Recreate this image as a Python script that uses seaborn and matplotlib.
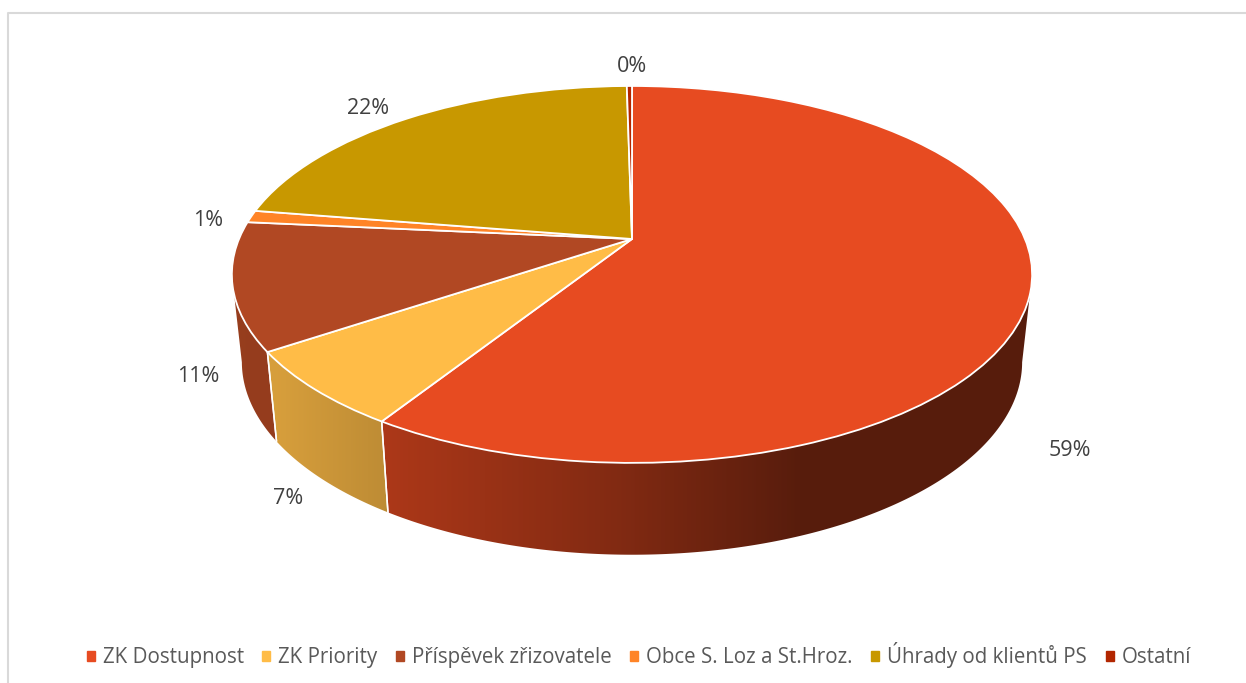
# 3D looking pie of income sources, drawn with a tilted disc transform

import numpy as np
import matplotlib
matplotlib.use('Agg')
import matplotlib.pyplot as plt
import matplotlib.patches as mpatches
from matplotlib.transforms import Transform
import seaborn as sns

# Data
categories = ['ZK Dostupnost', 'ZK Priority', 'Příspěvek zřizovatele',
              'Obce S. Loz a St.Hroz.', 'Úhrady od klientů PS', 'Ostatní']
shares = [59.0, 6.6, 10.9, 1.05, 22.2, 0.25]
slice_colors = ['#E74B21', '#FFBC47', '#B14823', '#FF8427', '#C89800', '#B22600']

# Where the percent labels sit, in picture pixels
label_pos = [(1070, 451), (288, 498), (198, 377), (208, 220), (368, 109), (632, 67)]

# Shading of the side wall, left to right
shade_x = [232, 280, 385, 620, 800]
shade_f = [0.85, 0.84, 0.745, 0.56, 0.38]

sns.set_theme(style='white')
plt.rcParams['font.family'] = ['Open Sans', 'DejaVu Sans']


class TiltedDisc(Transform):
    # maps the unit circle of the pie to a disc seen from above
    input_dims = 2
    output_dims = 2
    is_separable = False
    has_inverse = False

    def transform_non_affine(self, values):
        values = np.asarray(values, dtype=float)
        w = 1 + 0.188 * values[:, 1]
        return np.column_stack([632 + 393 * values[:, 0] / w,
                                239 - 181.8 * values[:, 1] / w])


tilt = TiltedDisc()


def lower_rim(pts):
    return np.column_stack([632 + (pts[:, 0] - 632) * 0.975,
                            362 + (pts[:, 1] - 274.5) * 1.023])


fig = plt.figure(figsize=(12.46, 6.83), dpi=100)
ax = fig.add_axes([0, 0, 1, 1])

wedges, _ = ax.pie(shares, colors=slice_colors, startangle=90, counterclock=False,
                   wedgeprops={'edgecolor': 'white', 'linewidth': 1.3, 'zorder': 3})

ax.set_aspect('auto')

for w in wedges:
    w.set_transform(tilt + ax.transData)

# Side walls: a left to right shade image clipped to each wall
xs = np.arange(1246)
shade = np.interp(xs, shade_x, shade_f)
for w, col in zip(wedges, slice_colors):
    base = np.array(matplotlib.colors.to_rgb(col))
    n = max(int(w.theta2 - w.theta1), 2) * 4 + 1
    th = np.radians(np.linspace(w.theta1, w.theta2, n))
    # only the part of the rim below its widest point shows a wall
    th = th[np.sin(th) < -0.188]
    if len(th) < 2:
        continue
    top = tilt.transform(np.column_stack([np.cos(th), np.sin(th)]))
    bot = lower_rim(top)
    outline = np.vstack([top, bot[::-1]])
    img = ax.imshow((shade[:, None] * base)[None, :, :], extent=(0, 1246, 683, 0),
                    aspect='auto', interpolation='nearest', zorder=1)
    img.set_clip_path(mpatches.Polygon(outline, closed=True, transform=ax.transData))
    # white line where two walls meet
    for edge in (0, -1):
        if np.sin(th[edge]) < -0.2:
            ax.plot([top[edge, 0], bot[edge, 0]], [top[edge, 1], bot[edge, 1]],
                    color='white', lw=1.1, zorder=2)

ax.set_xlim(0, 1246)
ax.set_ylim(683, 0)
ax.axis('off')

# Percent labels
for v, (x, y) in zip(shares, label_pos):
    ax.text(x, y, f'{v:.0f}%', ha='center', va='center', fontsize=15.5, color='#404040', zorder=5)

# Chart frame
ax.plot([8, 8, 1246], [683, 12.5, 12.5], color='#D9D9D9', lw=1.5, zorder=0)

handles = [mpatches.Patch(color=c) for c in slice_colors]
ax.legend(handles, categories, ncol=6, loc='center', bbox_to_anchor=(639, 655),
          bbox_transform=ax.transData, frameon=False, fontsize=14.8, labelcolor='#595959',
          handlelength=0.39, handleheight=0.39, handletextpad=0.39, columnspacing=0.9)

fig.savefig('out.png', dpi=100)
